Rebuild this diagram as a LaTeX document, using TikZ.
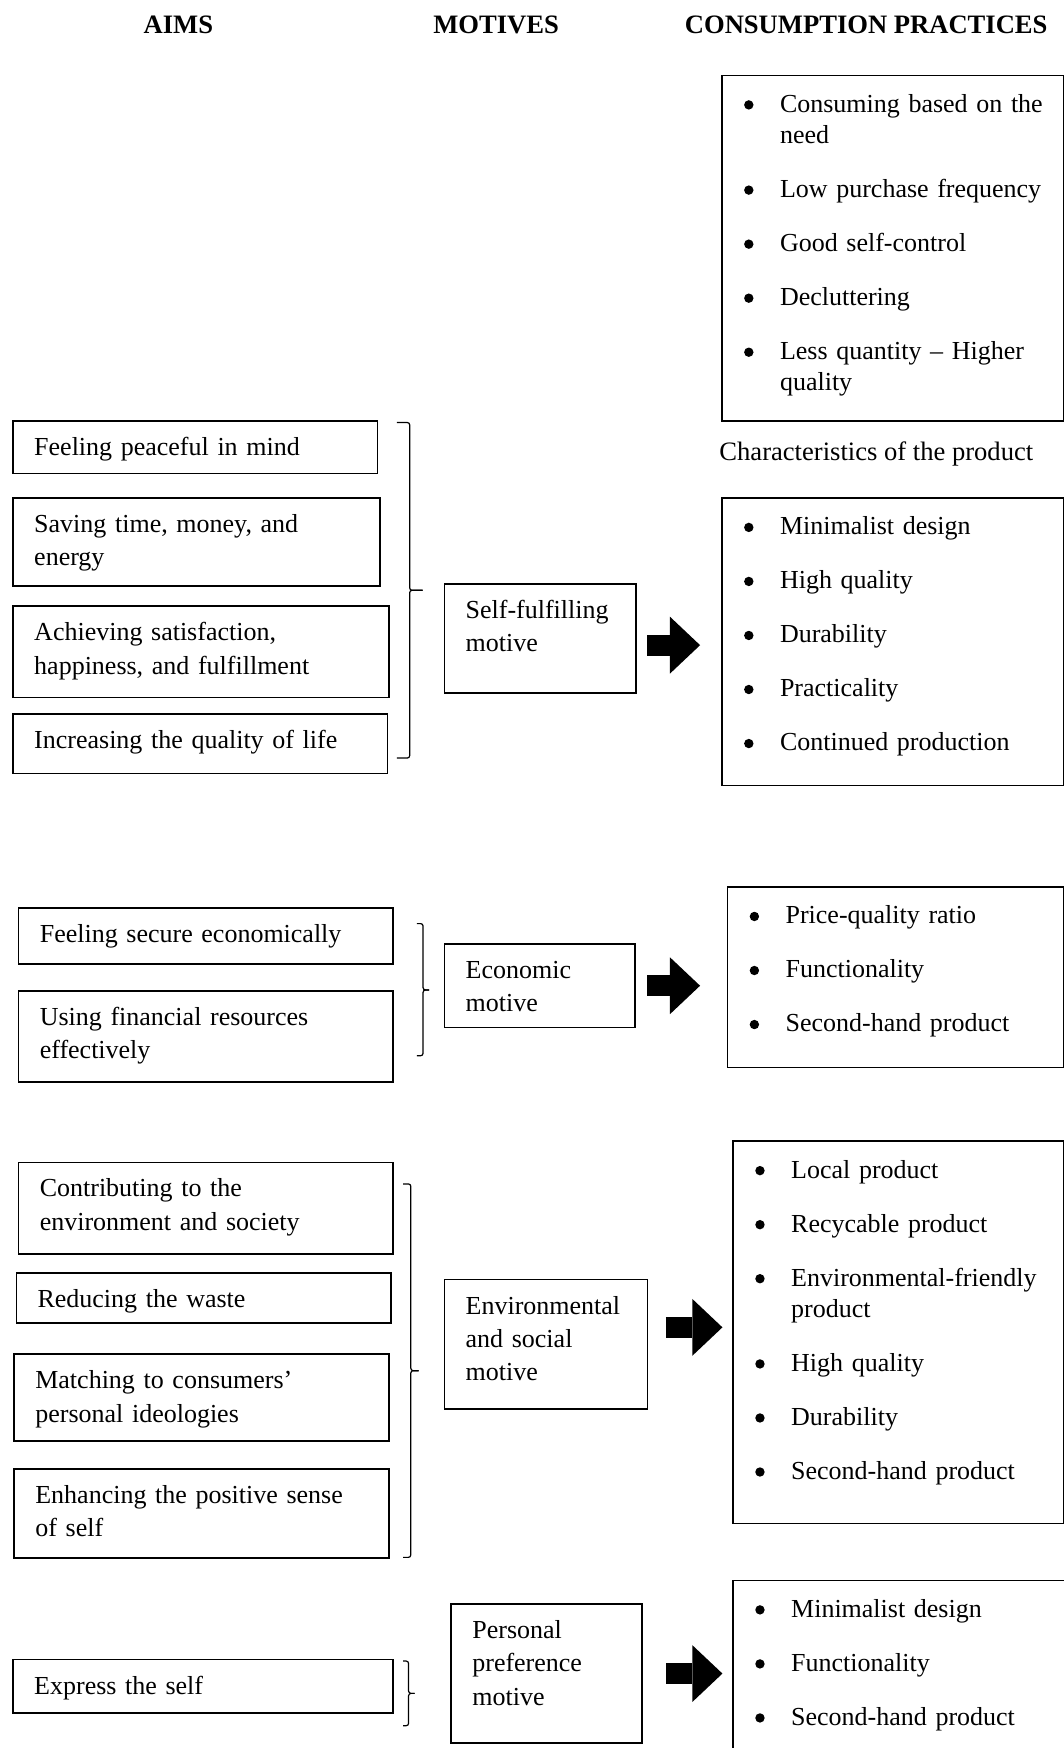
\documentclass[tikz,border=0pt]{standalone}
\usepackage{fontspec}
\setmainfont{Liberation Serif}
\usetikzlibrary{arrows.meta}

\newlength{\pxu}
\setlength{\pxu}{0.5577pt}
\newcommand{\bul}{\makebox[42\pxu][l]{\hspace{5.45pt}\tikz[baseline=-3.7pt]\fill (0,0) circle (2.35pt);}}
\newcommand{\cont}{\hspace*{42\pxu}}

\tikzset{
    aimbox/.style={draw, line width=0.8pt, anchor=north west, align=left,
        inner xsep=19\pxu, inner ysep=14\pxu, text height=17\pxu,
        font=\fontsize{13}{16.7}\selectfont},
    listbox/.style={aimbox, inner xsep=10\pxu, inner ysep=16\pxu,
        font=\fontsize{13}{15.6}\selectfont},
    head/.style={anchor=base, inner sep=0pt, font=\fontsize{13.3}{16}\selectfont\bfseries},
    bracket/.style={line width=0.6pt, rounded corners=1.2pt},
    fatarrow/.style={line width=10.6pt, -{Triangle[length=15.06pt, width=28.44pt, line width=0pt]}}
}

\begin{document}
\begin{tikzpicture}[x=0.5577pt, y=-0.5577pt]
        \useasboundingbox (0,0) rectangle (954,1568);

        % Headings
        \node[head] (h1) at (160,30) {AIMS};
        \node[head] (h2) at (445,30) {MOTIVES};
        \node[head] (h3) at (777,30) {CONSUMPTION PRACTICES};

        % Self-fulfilling motive
        \node[aimbox, text width=289\pxu, text depth=2\pxu] (a1) at (11,377) {Feeling peaceful in mind};
        \node[aimbox, text width=291\pxu, text depth=34\pxu] (a2) at (11,446) {Saving time, money, and\\ energy};
        \node[aimbox, text width=299\pxu, text depth=37\pxu] (a3) at (11,543) {Achieving satisfaction,\\ happiness, and fulfillment};
        \node[aimbox, text width=298\pxu, text depth=8\pxu] (a4) at (11,640) {Increasing the quality of life};
        \node[aimbox, text width=134\pxu, text depth=53\pxu] (m1) at (398,523) {Self-fulfilling\\ motive};

        \node[listbox, text width=286.5\pxu, text depth=261\pxu] (p1) at (647,67) {\bul Consuming based on the\\ \cont need\\[20.5\pxu]
            \bul Low purchase frequency\\[20.5\pxu] \bul Good self-control\\[20.5\pxu] \bul Decluttering\\[20.5\pxu]
            \bul Less quantity -- Higher\\ \cont quality};
        \node[anchor=base west, inner sep=0pt, font=\fontsize{13.3}{16.7}\selectfont] (cp) at (645,413) {Characteristics of the product};
        \node[listbox, text width=286.5\pxu, text depth=209\pxu] (p2) at (647,446) {\bul Minimalist design\\[20.5\pxu]
            \bul High quality\\[20.5\pxu] \bul Durability\\[20.5\pxu] \bul Practicality\\[20.5\pxu] \bul Continued production};

        % Economic motive
        \node[aimbox, text width=298\pxu, text depth=5\pxu] (a5) at (16,814) {Feeling secure economically};
        \node[aimbox, text width=298\pxu, text depth=37\pxu] (a6) at (16,888) {Using financial resources\\ effectively};
        \node[aimbox, text width=133\pxu, text depth=30\pxu] (m2) at (398,846) {Economic\\ motive};
        \node[listbox, text width=281.5\pxu, text depth=113\pxu] (p3) at (652,795) {\bul Price-quality ratio\\[20.5\pxu]
            \bul Functionality\\[20.5\pxu] \bul Second-hand product};

        % Environmental and social motive
        \node[aimbox, text width=298\pxu, text depth=37\pxu] (a7) at (16,1042) {Contributing to the\\ environment and society};
        \node[aimbox, text width=298\pxu, text depth=0pt] (a8) at (14,1141) {Reducing the waste};
        \node[aimbox, text width=298\pxu, text depth=33\pxu] (a9) at (12,1214) {Matching to consumers'\\ personal ideologies};
        \node[aimbox, text width=298\pxu, text depth=35\pxu] (a10) at (12,1317) {Enhancing the positive sense\\ of self};
        \node[aimbox, text width=144\pxu, text depth=71\pxu] (m3) at (398,1147) {Environmental\\ and social\\ motive};
        \node[listbox, text width=276.5\pxu, text depth=294\pxu] (p4) at (657,1023) {\bul Local product\\[20.5\pxu]
            \bul Recycable product\\[20.5\pxu] \bul Environmental-friendly\\ \cont product\\[20.5\pxu]
            \bul High quality\\[20.5\pxu] \bul Durability\\[20.5\pxu] \bul Second-hand product};

        % Personal preference motive
        \node[aimbox, text width=303\pxu, text depth=3\pxu] (a11) at (11,1488) {Express the self};
        \node[aimbox, text width=133\pxu, text depth=80\pxu] (m4) at (404,1438) {Personal\\ preference\\ motive};
        \node[listbox, text width=280\pxu, text depth=151\pxu] (p5) at (657,1417) {\bul Minimalist design\\[20.5\pxu]
            \bul Functionality\\[20.5\pxu] \bul Second-hand product};

        % brackets
        \draw[bracket] (356,379) -| (367.5,529.5) -- (379,529.5);
        \draw[bracket] (379,529.5) -| (367.5,680) -- (356,680);
        \draw[bracket] (374,828.5) -| (379.5,888) -- (385,888);
        \draw[bracket] (385,888) -| (379.5,947) -- (374,947);
        \draw[bracket] (361.5,1062) -| (368.5,1229.5) -- (375.5,1229.5);
        \draw[bracket] (375.5,1229.5) -| (368.5,1397) -- (361.5,1397);
        \draw[bracket] (361.5,1490) -| (366.5,1519) -- (372,1519);
        \draw[bracket] (372,1519) -| (366.5,1548) -- (361.5,1548);

        % arrows
        \coordinate (s1) at ([yshift=-3.35pt]m1.east);
        \coordinate (s3) at ([yshift=8.4pt]m3.east);
        \draw[fatarrow, shorten <=5pt, shorten >=10.6pt] (s1) -- (s1 -| p2.west);
        \draw[fatarrow, shorten <=5.6pt, shorten >=13.4pt] (m2.east) -- (m2.east -| p3.west);
        \draw[fatarrow, shorten <=8.9pt, shorten >=5pt] (s3) -- (s3 -| p4.west);
        \draw[fatarrow, shorten <=11.7pt, shorten >=5pt] (m4.east) -- (m4.east -| p5.west);

\end{tikzpicture}
\end{document}
